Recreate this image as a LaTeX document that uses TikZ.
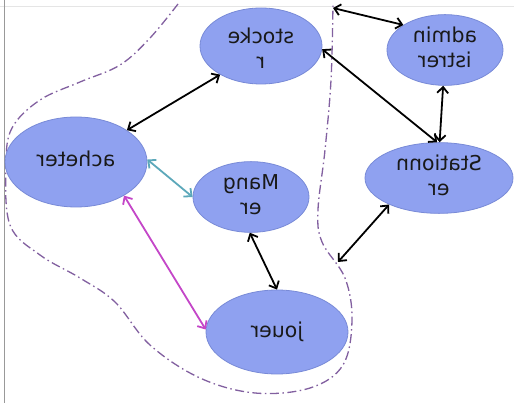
\documentclass[tikz,border=0pt]{standalone}
\usepackage{fontspec}
\setmainfont{DejaVu Sans}
\usepackage{graphicx}
\usetikzlibrary{shapes.geometric,arrows.meta}
\definecolor{efill}{RGB}{143,161,240}
\definecolor{edraw}{RGB}{120,138,215}
\definecolor{zone}{RGB}{130,96,160}
\definecolor{tealc}{RGB}{92,168,186}
\definecolor{magc}{RGB}{196,70,200}
\newcommand{\mirtext}[1]{\reflectbox{\begin{tabular}{@{}c@{}}#1\end{tabular}}}
\tikzset{
  usecase/.style={ellipse, fill=efill, draw=edraw, line width=0.8pt, inner sep=0pt,
    font=\fontsize{20.5}{25}\selectfont, text=black!90},
  link/.style={line width=1.8pt, {Straight Barb[length=6pt,width=11pt]}-{Straight Barb[length=6pt,width=11pt]}},
  zoneline/.style={zone, line width=1.3pt, dash pattern=on 9pt off 3.5pt on 1.5pt off 3.5pt}
}
\begin{document}
\begin{tikzpicture}[x=1pt,y=-1pt]
\useasboundingbox (0,0) rectangle (514,403);
\fill[white] (0,0) rectangle (514,403);
\draw[black!10, line width=0.8pt] (0,6) -- (514,6);
\draw[black!40, line width=0.8pt] (4,0) -- (4,403);

\draw[zoneline] plot[smooth, tension=0.6] coordinates {
 (178,4) (150,38) (120,65) (80,82) (40,100) (12,128) (6,165) (10,225) (40,255)
 (80,278) (115,302) (150,345) (200,378) (255,393) (310,388) (343,365)
 (352,320) (345,278) (322,242) (318,210) (325,150) (331,80) (333,4)};

\node[usecase, minimum width=122pt, minimum height=76pt] (stocker) at (261,46) {\raisebox{-10pt}[0pt][0pt]{\mirtext{stocke\\r}}};
\node[usecase, minimum width=116pt, minimum height=70pt] (admin) at (445,50) {\mirtext{admin\\istrer}};
\node[usecase, minimum width=148pt, minimum height=70pt] (stationner) at (439,178) {\mirtext{Stationn\\er}};
\node[usecase, minimum width=142pt, minimum height=90pt] (acheter) at (76,162) {\mirtext{acheter}};
\node[usecase, minimum width=116pt, minimum height=70pt] (manger) at (251,197) {\mirtext{Mang\\er}};
\node[usecase, minimum width=142pt, minimum height=84pt] (jouer) at (277,332) {\mirtext{jouer}};

\coordinate (topfree) at (333,8);
\coordinate (lowfree) at (338,262);

\draw[link] (acheter.32) -- (stocker.215);
\draw[link] (stocker.-3) -- (stationner.93);
\draw[link] (admin.267) -- (stationner.89);
\draw[link] (topfree) -- (admin.149);
\draw[link, tealc] (acheter.2) -- (manger.180);
\draw[link, magc] (acheter.325) -- (jouer.178);
\draw[link] (manger.268) -- (jouer.90);
\draw[link] (stationner.208) -- (lowfree);
\end{tikzpicture}
\end{document}
